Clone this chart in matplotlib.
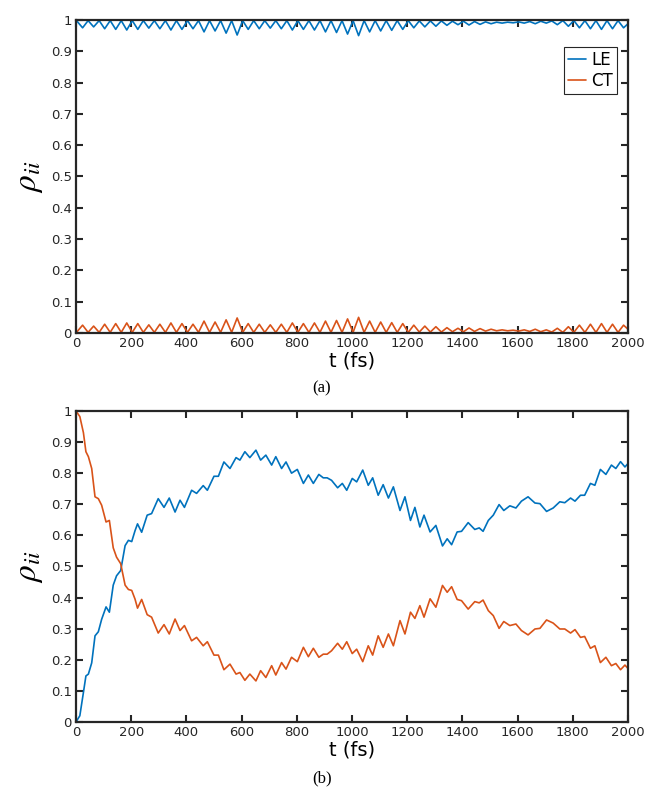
import numpy as np
import matplotlib
matplotlib.use("Agg")
import matplotlib.pyplot as plt

plt.rcParams['mathtext.fontset'] = 'stix'
plt.rcParams['font.family'] = 'DejaVu Sans'

# ---- panel (a): fast small oscillations, sampled at peaks / troughs ----
t_a = [0, 24, 44, 64, 84, 104, 124, 144, 164, 184, 204, 224, 244, 264, 284,
       304, 324, 344, 364, 384, 404, 424, 444, 464, 484, 504, 524, 544, 564,
       584, 604, 624, 644, 664, 684, 704, 724, 744, 764, 784, 804, 824, 844,
       864, 884, 904, 924, 944, 964, 984, 1004, 1024, 1044, 1064, 1084, 1104,
       1124, 1144, 1164, 1184, 1204, 1224, 1244, 1264, 1284, 1304, 1324, 1344,
       1364, 1384, 1404, 1424, 1444, 1464, 1484, 1504, 1524, 1544, 1564, 1584,
       1604, 1624, 1644, 1664, 1684, 1704, 1724, 1744, 1764, 1784, 1804, 1824,
       1844, 1864, 1884, 1904, 1924, 1944, 1964, 1984, 2000]
ct_a = [0.000, 0.025, 0.002, 0.022, 0.002, 0.028, 0.002, 0.030, 0.002, 0.032,
        0.002, 0.030, 0.002, 0.026, 0.002, 0.028, 0.002, 0.032, 0.002, 0.030,
        0.002, 0.028, 0.002, 0.038, 0.002, 0.035, 0.002, 0.042, 0.002, 0.048,
        0.002, 0.030, 0.002, 0.028, 0.002, 0.026, 0.002, 0.028, 0.002, 0.032,
        0.002, 0.030, 0.002, 0.032, 0.002, 0.038, 0.002, 0.040, 0.002, 0.045,
        0.002, 0.050, 0.002, 0.038, 0.002, 0.035, 0.002, 0.033, 0.002, 0.030,
        0.002, 0.025, 0.003, 0.022, 0.003, 0.020, 0.003, 0.017, 0.004, 0.015,
        0.004, 0.016, 0.005, 0.014, 0.006, 0.012, 0.007, 0.010, 0.007, 0.009,
        0.006, 0.010, 0.005, 0.012, 0.004, 0.010, 0.003, 0.015, 0.002, 0.020,
        0.002, 0.025, 0.002, 0.028, 0.002, 0.030, 0.002, 0.028, 0.002, 0.025,
        0.012]
le_a = [1.000, 0.975, 0.998, 0.978, 0.998, 0.972, 0.998, 0.970, 0.998, 0.968,
        0.998, 0.970, 0.998, 0.974, 0.998, 0.972, 0.998, 0.968, 0.998, 0.970,
        0.998, 0.972, 0.998, 0.962, 0.998, 0.965, 0.998, 0.958, 0.998, 0.952,
        0.998, 0.970, 0.998, 0.972, 0.998, 0.974, 0.998, 0.972, 0.998, 0.968,
        0.998, 0.970, 0.998, 0.968, 0.998, 0.962, 0.998, 0.960, 0.998, 0.955,
        0.998, 0.950, 0.998, 0.962, 0.998, 0.965, 0.998, 0.967, 0.998, 0.970,
        0.998, 0.975, 0.997, 0.978, 0.997, 0.980, 0.997, 0.983, 0.996, 0.985,
        0.996, 0.984, 0.995, 0.986, 0.994, 0.988, 0.993, 0.990, 0.993, 0.991,
        0.994, 0.990, 0.995, 0.988, 0.996, 0.990, 0.997, 0.985, 0.998, 0.980,
        0.998, 0.975, 0.998, 0.972, 0.998, 0.970, 0.998, 0.972, 0.998, 0.975,
        0.988]

# ---- panel (b): population transfer ----
t_b = [0, 14, 27, 36, 45, 57, 69, 81, 93, 109, 121, 135, 147, 162, 178, 190,
       202, 214, 223, 238, 258, 274, 298, 319, 338, 359, 377, 393, 419, 437,
       461, 476, 500, 516, 536, 558, 580, 594, 612, 630, 652, 669, 688, 709,
       724, 745, 761, 781, 802, 824, 842, 860, 880, 896, 910, 926, 948, 965,
       981, 1001, 1017, 1039, 1059, 1075, 1095, 1113, 1132, 1150, 1174, 1192,
       1212, 1228, 1246, 1261, 1283, 1304, 1328, 1345, 1361, 1381, 1397, 1421,
       1445, 1461, 1475, 1494, 1512, 1533, 1550, 1572, 1594, 1614, 1638, 1663,
       1681, 1705, 1729, 1753, 1771, 1792, 1808, 1828, 1843, 1864, 1880, 1900,
       1920, 1940, 1956, 1973, 1989, 2000]
le_b = [0.000, 0.020, 0.095, 0.148, 0.154, 0.190, 0.277, 0.290, 0.330, 0.370,
        0.353, 0.440, 0.470, 0.487, 0.567, 0.584, 0.580, 0.615, 0.637, 0.610,
        0.665, 0.670, 0.718, 0.690, 0.720, 0.675, 0.713, 0.690, 0.745, 0.735,
        0.760, 0.745, 0.790, 0.790, 0.836, 0.815, 0.850, 0.842, 0.869, 0.850,
        0.874, 0.842, 0.858, 0.826, 0.853, 0.815, 0.836, 0.800, 0.812, 0.767,
        0.794, 0.767, 0.796, 0.785, 0.785, 0.777, 0.753, 0.767, 0.745, 0.783,
        0.772, 0.810, 0.761, 0.785, 0.729, 0.763, 0.720, 0.756, 0.680, 0.724,
        0.648, 0.690, 0.627, 0.665, 0.611, 0.632, 0.566, 0.589, 0.570, 0.611,
        0.613, 0.641, 0.619, 0.624, 0.613, 0.648, 0.665, 0.699, 0.680, 0.695,
        0.688, 0.710, 0.724, 0.704, 0.702, 0.677, 0.688, 0.708, 0.705, 0.720,
        0.710, 0.729, 0.729, 0.767, 0.761, 0.812, 0.796, 0.826, 0.815, 0.837,
        0.820, 0.831]
ct_b = [1.000, 0.982, 0.930, 0.869, 0.853, 0.815, 0.724, 0.718, 0.697, 0.643,
        0.648, 0.560, 0.530, 0.509, 0.440, 0.426, 0.423, 0.395, 0.366, 0.394,
        0.345, 0.337, 0.286, 0.313, 0.283, 0.331, 0.294, 0.310, 0.261, 0.272,
        0.245, 0.258, 0.215, 0.215, 0.168, 0.186, 0.154, 0.159, 0.134, 0.154,
        0.132, 0.165, 0.143, 0.181, 0.151, 0.191, 0.170, 0.208, 0.194, 0.240,
        0.210, 0.237, 0.208, 0.218, 0.218, 0.229, 0.253, 0.234, 0.258, 0.220,
        0.234, 0.194, 0.245, 0.215, 0.277, 0.240, 0.283, 0.245, 0.326, 0.283,
        0.353, 0.333, 0.374, 0.337, 0.396, 0.369, 0.439, 0.417, 0.435, 0.394,
        0.390, 0.363, 0.387, 0.383, 0.392, 0.358, 0.342, 0.301, 0.323, 0.310,
        0.315, 0.294, 0.280, 0.299, 0.301, 0.328, 0.318, 0.299, 0.299, 0.286,
        0.297, 0.272, 0.275, 0.237, 0.245, 0.191, 0.208, 0.181, 0.188, 0.168,
        0.183, 0.172]

xticks = [0, 200, 400, 600, 800, 1000, 1200, 1400, 1600, 1800, 2000]
yticks = [0, 0.1, 0.2, 0.3, 0.4, 0.5, 0.6, 0.7, 0.8, 0.9, 1]
ylabels = ['0', '0.1', '0.2', '0.3', '0.4', '0.5', '0.6', '0.7', '0.8', '0.9', '1']

blue = '#0072BD'
orange = '#D95319'
dark = '#262626'

fig = plt.figure(figsize=(6.46, 7.90), dpi=100)
ax1 = fig.add_axes([0.1176, 0.5785, 0.8545, 0.3962])
ax2 = fig.add_axes([0.1176, 0.0861, 0.8545, 0.3937])


def style(ax):
    ax.set_xlim(0, 2000)
    ax.set_ylim(0, 1)
    ax.set_xticks(xticks)
    ax.set_yticks(yticks)
    ax.set_yticklabels(ylabels)
    ax.tick_params(direction='in', length=5, width=1.5, top=True, right=True,
                   labelsize=9.5, colors=dark, pad=3)
    for s in ax.spines.values():
        s.set_linewidth(1.6)
        s.set_color(dark)
    ax.set_xlabel('t (fs)', fontsize=14, color='black', labelpad=1)
    ax.set_ylabel(r'$\rho_{ii}$', fontsize=24, color='black', labelpad=4)


line_kw = dict(lw=1.2, solid_joinstyle='round', solid_capstyle='round')

ax1.plot(t_a, le_a, color=blue, label='LE', **line_kw)
ax1.plot(t_a, ct_a, color=orange, label='CT', **line_kw)
style(ax1)
leg = ax1.legend(loc='upper right', bbox_to_anchor=(0.980, 0.914), borderaxespad=0,
                 fontsize=12, handlelength=1.1, handletextpad=0.3, borderpad=0.25,
                 labelspacing=0.15, fancybox=False, framealpha=1)
leg.get_frame().set_edgecolor(dark)
leg.get_frame().set_linewidth(0.8)

ax2.plot(t_b, le_b, color=blue, **line_kw)
ax2.plot(t_b, ct_b, color=orange, **line_kw)
style(ax2)

fig.text(0.4985, 1 - 388 / 790, '(a)', ha='center', va='center', fontsize=12,
         family='Liberation Serif')
fig.text(0.4985, 1 - 778 / 790, '(b)', ha='center', va='center', fontsize=12,
         family='Liberation Serif')

fig.savefig('out.png', dpi=100)
